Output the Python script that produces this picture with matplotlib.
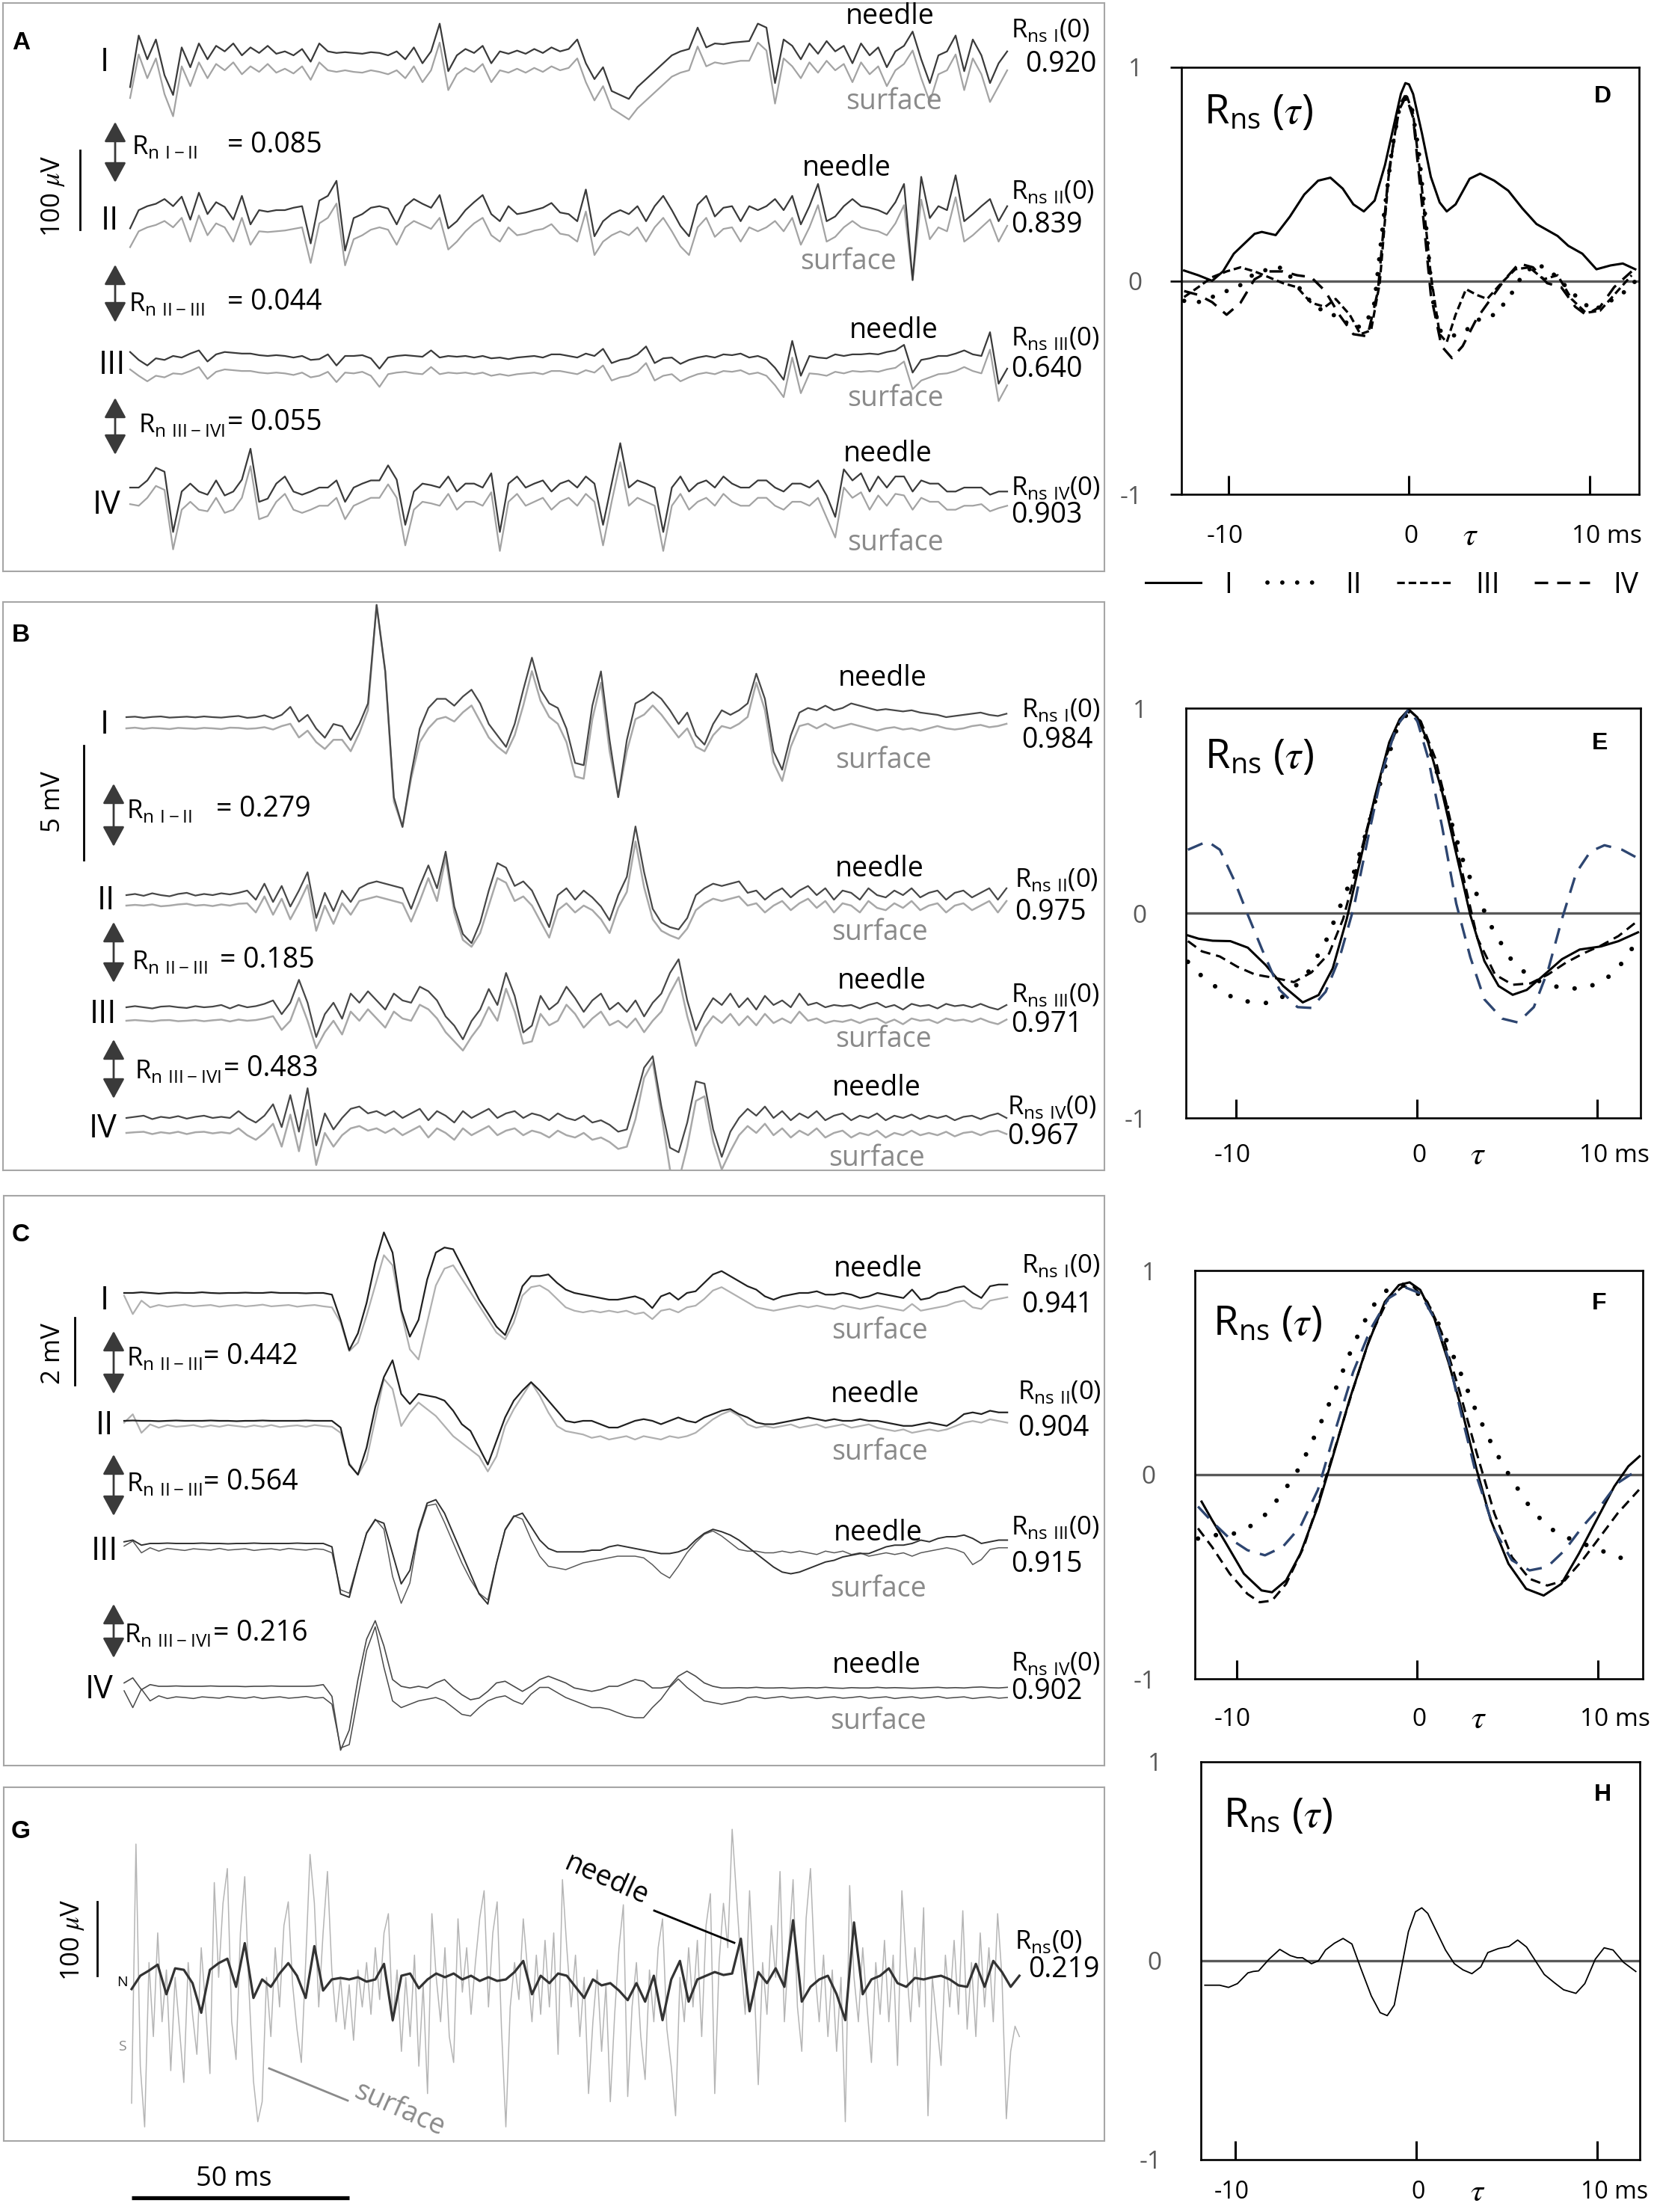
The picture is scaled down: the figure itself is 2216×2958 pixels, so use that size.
import numpy as np
import matplotlib
matplotlib.use("Agg")
import matplotlib.pyplot as plt
from matplotlib.lines import Line2D
from matplotlib.patches import FancyArrowPatch, ArrowStyle
from matplotlib.transforms import blended_transform_factory

plt.rcParams['font.family'] = ['Open Sans', 'DejaVu Sans']
plt.rcParams['lines.solid_joinstyle'] = 'round'

# ------------------------------------------------------------------ data
STEP_MS = 2.0          # sampling step of traced EMG segments (ms)
G_SURF_STEP_MS = 1.0

# Panel A (uV)
A_I_needle = [-40,25,-5,20,-25,-50,10,-15,15,-5, 12,5,15,0,10,3,12,2,5,0, 8,-8,15,5,3,4,3,2,4,3,
              0,5,-5,10,-10,5,40,-20,0,8, 3,12,-10,5,2,6,2,8,3,10, 5,8,20,-10,-30,-15,-45,-50,-55,-40,
              -30,-20,-10,0,5,8,35,10,15,14, 16,17,18,40,35,-35,20,12,-5,15, 2,18,5,12,-10,15,0,10,-15,5,
              12,30,-5,-35,0,5,25,-20,20,0, -35,-10,5]
A_I_surface = [-35,20,-10,15,-30,-58,5,-20,10,-10, 8,0,10,-5,5,-2,8,-3,2,-4, 5,-12,10,0,-2,0,-2,-3,0,-2,
               -5,0,-10,5,-15,0,35,-25,-5,3, -2,8,-15,0,-3,2,-3,3,-2,5, 0,3,15,-15,-38,-20,-48,-55,-62,-48,
               -38,-28,-18,-8,-3,0,30,5,10,8, 10,12,12,35,25,-42,15,5,-10,10, -3,12,0,8,-15,10,-5,5,-20,0,
               8,25,-10,-40,-5,0,20,-25,15,-5, -40,-20,0]
A_II_needle = [-23,0,5,8,14,5,17,-12,22,-5, 10,4,-12,18,-18,0,-2,0,0,3, 5,-42,12,18,37,-51,-10,-5,3,5,
               2,-18,5,14,8,3,19,-23,-14,0, 10,19,-5,-14,5,-5,-3,0,3,9, -3,-5,-14,26,-33,-14,-5,0,-5,5,
               -14,5,18,0,-20,-33,7,18,-8,3, 5,-14,5,0,5,14,0,18,-18,5, 33,-14,-8,5,14,5,3,0,-5,10,
               33,-88,42,-10,5,0,44,-14,-5,5, 14,-14,5]
A_II_surface = [-25,-5,0,3,8,0,12,-18,15,-10, 5,0,-18,12,-22,-5,-6,-5,-4,-2, 0,-45,5,12,30,-48,-15,-10,-3,0,
                -3,-22,0,8,3,-2,12,-28,-18,-5, 5,12,-10,-18,0,-10,-8,-4,-2,4, -8,-10,-18,20,-35,-18,-10,-5,-10,0,
                -18,0,12,-5,-24,-35,0,12,-12,-2, 0,-18,0,-5,0,8,-5,12,-22,0, 28,-18,-12,0,8,0,-3,-5,-10,5,
                28,-67,35,-15,0,-5,38,-18,-10,0, 10,-18,2]
A_III_needle = [5,-5,-12,-3,-5,0,-2,3,7,-7, 2,5,4,3,3,1,0,1,0,-2, 0,-5,-4,2,-12,0,0,1,-3,-16,
                -2,0,1,0,-1,7,-2,0,-1,0, -2,0,-3,-2,-4,-2,-1,0,-2,2, 2,0,-2,3,0,9,-9,-5,-3,2,
                12,-9,-3,-2,-10,-5,-2,0,-2,2, 1,3,-2,0,-4,-15,-30,19,-25,0, -2,-3,2,0,2,2,3,2,5,7,
                14,-21,-5,-3,0,0,3,7,2,0, 30,-35,-16]
A_III_surface = [0,-8,-15,-8,-10,-5,-6,-2,3,-12, -3,0,-1,-2,-2,-4,-5,-4,-5,-7, -4,-10,-8,-3,-16,-4,-5,-3,-8,-22,
                 -6,-4,-3,-5,-6,3,-6,-4,-5,-4, -6,-4,-8,-6,-8,-6,-5,-4,-6,-2, -2,-4,-6,-1,-4,5,-14,-10,-8,-3,
                 8,-14,-8,-6,-15,-10,-6,-4,-6,-2, -3,-1,-6,-4,-8,-20,-35,15,-30,-5, -6,-8,-3,-5,-2,-3,-2,-3,0,2,
                 10,-25,-14,-10,-6,-5,-2,3,-2,-5, 25,-40,-20]
A_IV_needle = [0,0,9,25,20,-56,-5,5,-5,-9, 9,-10,-5,10,49,-18,-14,5,14,-5, -9,-5,0,0,9,-18,0,5,9,9,
               28,10,-47,-5,5,3,0,14,-5,5, 5,0,18,-56,5,14,0,5,9,-5, 5,9,0,14,5,-47,5,56,0,9,
               5,0,-56,0,14,-5,5,9,0,14, 5,0,0,9,9,0,-5,5,5,0, 9,-10,-37,23,9,18,-5,14,0,14,
               14,-5,9,5,5,-5,-5,0,0,0, -9,-5,-5]
A_IV_surface = [-3,-5,5,20,15,-60,-10,0,-10,-12, 5,-14,-10,5,45,-22,-18,0,10,-10, -14,-10,-5,-5,5,-22,-5,0,5,5,
                22,5,-55,-10,0,-2,-5,10,-10,0, 0,-5,12,-62,0,10,-5,0,5,-10, 0,5,-5,10,0,-55,0,50,-5,5,
                0,-5,-62,-5,10,-10,0,5,-5,10, 0,-5,-5,5,5,-5,-10,0,0,-5, 5,-20,-45,18,5,12,-10,8,-5,10,
                8,-10,5,0,0,-10,-10,-5,-5,-3, -12,-8,-5]

# Panel B (mV)
B_I_needle = [0.0,0.02,-0.03,0.01,0.03,-0.02,0.0,0.02,-0.01,0.03,0.0,-0.02,0.02,0.05,-0.03,0.0,0.08,-0.05,0.1,
              0.45,-0.2,0.1,-0.5,-0.9,-0.3,-0.4,-1.0,-0.3,0.6, 4.9,2.0,-3.5,-4.8,-2.5,-0.5,0.4,0.8,0.8,0.5,
              0.9,1.2,0.6,-0.3,-0.8,-1.3,-0.3,1.2,2.6,1.2, 0.6,0.4,-0.5,-2.0,-2.1,0.5,2.0,-1.0,-3.5,-1.0,
              0.6,0.8,1.1,0.8,0.3,-0.3,0.2,-0.8,-1.2,-0.3, 0.3,0.1,0.3,0.6,1.9,0.8,-1.5,-2.3,-0.8,0.2,
              0.4,0.3,0.5,0.3,0.4,0.6,0.5,0.4,0.3,0.35, 0.3,0.25,0.3,0.2,0.15,0.1,0.0,0.05,0.1,0.15, 0.2,0.1,0.05,0.15]
B_I_surface = [0.0,0.03,-0.02,0.02,0.0,-0.03,0.02,0.0,-0.02,0.02,0.0,-0.03,0.03,0.02,-0.02,0.0,0.05,-0.05,0.1,
               0.2,-0.4,-0.1,-0.6,-0.9,-0.5,-0.5,-1.0,-0.2,0.8, 5.4,2.5,-3.2,-4.3,-2.2,-0.6,0.0,0.4,0.5,0.3,
               0.7,1.0,0.3,-0.4,-0.8,-1.1,-0.3,1.0,2.5,1.2, 0.5,0.2,-0.6,-2.1,-2.2,0.4,2.0,-1.0,-3.0,-1.0,
               0.4,0.6,1.0,0.6,0.1,-0.4,0.0,-0.8,-1.0,-0.3, 0.1,0.0,0.2,0.5,2.0,0.8,-1.5,-2.3,-0.8,0.1,
               0.2,0.0,0.2,0.0,0.1,0.2,0.1,0.0,-0.1,0.0, 0.05,-0.05,0.0,-0.1,0.0,0.1,0.0,-0.05,0.0,0.1, 0.15,0.05,0.1,0.2]
B_II_needle = [0,0.05,-0.03,0.08,0.0,-0.05,0.05,0.1,-0.02,0.05,0.0,0.08,0.03,0.1,
               0.2,-0.2,0.5,-0.3,0.4,-0.5,0.2,1.0,-1.0,0.1, -0.7,0.2,-0.3,0.3,0.5,0.6,0.5,0.4,0.3,-0.6,
               0.4,1.3,0.3,1.9,-0.5,-1.7,-2.1,-1.2,0.2,1.4, 1.2,0.4,0.6,0.2,-0.6,-1.4,0.0,0.3,-0.2,0.2,
               -0.1,-0.5,-1.1,0.0,0.8,3.0,1.0,-0.6,-1.2,-1.4, -1.5,-1.0,0.0,0.3,0.5,0.4,0.5,0.6,0.1,0.2,
               -0.2,0.1,0.3,-0.1,0.2,0.4,0.0,0.3,-0.2,0.2, 0.1,-0.2,0.3,0.0,-0.1,0.2,0.0,0.3,-0.1,0.1,
               0.2,-0.2,0.1,0.2,-0.1,0.1,0.3,-0.2,0.3]
B_II_surface = [0,0.03,0.0,0.05,-0.03,0.0,0.05,0.08,0.0,0.03,-0.02,0.05,0.0,0.08,
                0.1,-0.3,0.4,-0.4,0.3,-0.6,0.1,0.9,-1.1,0.0, -0.8,0.1,-0.4,0.2,0.3,0.4,0.3,0.2,0.1,-0.7,
                0.2,1.2,0.2,2.1,-0.3,-1.5,-1.8,-1.2,0.0,1.2, 1.0,0.2,0.4,0.0,-0.7,-1.4,-0.2,0.1,-0.3,0.0,
                -0.2,-0.6,-1.2,-0.1,0.6,2.8,0.8,-0.6,-1.1,-1.3, -1.45,-1.0,-0.2,0.1,0.3,0.2,0.3,0.4,0.0,0.1,
                -0.3,0.0,0.2,-0.2,0.1,0.3,-0.1,0.2,-0.3,0.1, 0.0,-0.3,0.2,-0.1,-0.2,0.1,-0.1,0.2,-0.2,0.0,
                0.1,-0.3,0.0,0.1,-0.2,0.0,0.2,-0.3,0.2]
B_III_needle = [0,0.05,0,-0.05,0.03,0.05,0.0,-0.03,0.05,0.0,0.03,0.1,-0.05,0.1,0.0,0.05,0.15,
                0.3,-0.3,0.2,1.2,0.2,-1.3,-0.3,0.2,-0.5,0.6, 0.2,0.7,0.3,-0.1,0.6,0.3,0.2,0.9,0.7,0.3,
                -0.4,-0.8,-1.4,-0.6,-0.1,0.8,0.1,1.5,0.5,-1.1, -0.8,0.5,-0.1,0.2,0.9,0.4,-0.2,0.3,0.6,-0.1,
                0.2,-0.2,0.3,-0.4,0.2,0.6,1.5,2.1,0.3,-1.0, -0.2,0.4,0.1,0.6,0.0,0.4,-0.1,0.5,0.1,0.3,
                0.0,0.6,0.1,0.2,0.0,0.1,0.05,0.1,-0.05,0.1, 0.2,0.0,0.1,-0.1,0.15,0.05,0.1,-0.05,0.15,0.05,
                0.1,0.0,0.15,0.0,-0.1,0.1]
B_III_surface = [0,0.03,0.0,-0.03,0.02,0.03,-0.02,0.0,0.03,-0.02,0.02,0.05,-0.03,0.05,0.0,0.03,0.1,
                 0.2,-0.4,0.0,1.0,0.0,-1.2,-0.5,0.0,-0.6,0.4, 0.0,0.5,0.1,-0.3,0.4,0.1,0.0,0.7,0.5,0.1,
                 -0.5,-0.9,-1.3,-0.7,-0.2,0.6,0.0,1.4,0.4,-1.0, -0.9,0.3,-0.2,0.0,0.7,0.3,-0.3,0.1,0.4,-0.2,
                 0.0,-0.3,0.1,-0.5,0.0,0.4,1.2,1.9,0.2,-1.1, -0.3,0.2,-0.1,0.3,-0.2,0.2,-0.2,0.3,-0.1,0.1,
                 -0.1,0.4,0.0,0.1,-0.1,0.0,-0.05,0.05,-0.1,0.05, 0.1,-0.1,0.05,-0.15,0.1,0.0,0.05,-0.1,0.1,0.0,
                 0.05,-0.05,0.1,-0.05,-0.15,0.05]
B_IV_needle = [0,0.05,0.1,-0.05,0.05,0.0,0.08,-0.03,0.05,0.1,0.0,0.05,0.0,
               0.3,0.0,-0.2,0.1,0.6,-0.4,1.0,-0.6,1.3,-1.2, 0.2,-0.5,0.0,0.4,0.5,0.2,0.3,0.1,0.3,0.0,
               0.2,0.4,-0.1,0.3,0.1,-0.2,0.3,0.0,0.2,0.4, 0.0,0.2,0.3,0.0,0.2,0.1,-0.1,0.2,0.0,-0.1,
               0.1,-0.2,-0.1,-0.3,-0.6,-0.5,0.8,2.2,2.7,0.5, -1.3,-1.5,-0.2,1.6,1.5,-0.5,-1.7,-0.6,0.0,0.4,
               0.1,0.5,0.0,0.3,-0.1,0.2,0.0,0.3,-0.1,0.1, 0.2,-0.1,0.1,0.0,0.2,-0.1,0.1,0.0,0.15,-0.05,
               0.1,0.0,0.1,-0.1,0.05,0.1,-0.05,0.1,0.2,0.0]
B_IV_surface = [0,0.03,0.05,-0.05,0.03,-0.02,0.05,-0.05,0.03,0.05,-0.02,0.03,-0.02,
                0.2,-0.1,-0.3,0.0,0.4,-0.6,0.8,-0.8,1.0,-1.4, 0.0,-0.6,-0.1,0.2,0.3,0.1,0.2,0.0,0.2,-0.1,
                0.1,0.3,-0.2,0.2,0.0,-0.3,0.2,-0.1,0.1,0.3, -0.1,0.1,0.2,-0.1,0.1,0.0,-0.2,0.1,-0.1,-0.2,
                0.0,-0.3,-0.2,-0.4,-0.7,-0.6,0.6,2.4,3.1,0.8, -1.6,-2.1,-0.6,1.4,1.6,-0.4,-1.6,-0.8,-0.1,0.3,
                0.0,0.4,-0.1,0.2,-0.2,0.1,-0.1,0.2,-0.2,0.0, 0.1,-0.2,0.0,-0.1,0.1,-0.2,0.0,-0.1,0.1,-0.1,
                0.0,-0.1,0.05,-0.15,0.0,0.05,-0.1,0.05,0.1,-0.05]

# Panel C (mV)
C_I_needle = [0,0,0.02,0,-0.02,0,0.01,0,0,0.02,0,-0.01,0,0,0.01,0,0,0.02,0,0,0,-0.01,0,0,-0.05,
              -0.8,-1.7,-1.2,-0.3,0.9,1.8,1.2,-0.5,-1.3,-0.8, 0.4,1.2,1.35,1.3,0.8,0.3,-0.2,-0.6,-1.0,-1.25,
              -0.6,0.2,0.5,0.5,0.55,0.3,0.1,0.0,-0.05,-0.1, -0.15,-0.2,-0.2,-0.15,-0.1,-0.2,-0.45,-0.1,0.0,-0.2,
              0.0,0.05,0.3,0.55,0.65,0.5,0.35,0.2,0.1,-0.1, -0.2,-0.1,-0.05,0.0,0.0,0.05,-0.05,-0.05,0.0,-0.05,
              -0.15,-0.1,0.0,-0.05,-0.1,-0.15,0.1,-0.2,-0.15,0.0, 0.05,0.15,0.2,0.0,-0.15,0.2,0.25,0.25]
C_I_surface = [0.3,-0.25,0.15,-0.05,0.02,-0.03,0.0,0.03,-0.02,0.0,0.02,-0.03,0.0,0.02,-0.02,0.0,0.03,-0.02,0.0,0.02,-0.03,0.0,0.02,-0.02,-0.05,
               -0.5,-1.35,-1.1,-0.3,0.6,1.5,1.2,-0.2,-1.3,-1.6, -0.5,0.6,1.1,1.2,0.8,0.4,0.0,-0.4,-0.8,-1.0,
               -0.5,0.3,0.55,0.6,0.45,0.2,-0.05,-0.15,-0.2,-0.15, -0.2,-0.15,-0.2,-0.15,-0.25,-0.2,-0.4,-0.15,-0.1,-0.2,
               -0.05,0.0,0.2,0.45,0.55,0.4,0.25,0.1,-0.05,-0.1, -0.15,-0.1,-0.05,0.0,-0.05,0.0,-0.05,-0.1,0.0,-0.05,
               -0.1,-0.05,0.0,-0.05,-0.1,-0.15,0.05,-0.15,-0.1,-0.05, 0.0,0.1,0.15,-0.05,-0.1,0.15,0.2,0.25]
C_II_needle = [0,0.01,0,0,-0.01,0,0.01,0,0,0,0.01,0,0,-0.01,0,0,0.01,0,0,0,0,0.01,0,0,0,
               -0.2,-1.3,-1.6,-0.8,0.4,1.3,1.8,0.8,0.5,0.8, 0.75,0.7,0.6,0.3,-0.1,-0.3,-0.8,-1.3,-0.6,0.1,
               0.6,0.9,1.15,0.9,0.6,0.3,0.0,-0.05,0.0,0.0, -0.1,-0.2,-0.2,-0.1,0.0,0.05,0.0,-0.1,0.0,0.1,
               0.0,-0.05,0.1,0.2,0.3,0.35,0.2,0.1,-0.05,-0.1, -0.1,-0.05,0.0,0.05,0.1,0.05,0.0,0.05,0.0,0.0,
               0.05,0.0,0.0,-0.05,-0.1,-0.15,-0.15,-0.1,-0.05,-0.1, -0.15,0.0,0.2,0.25,0.2,0.3,0.25,0.25]
C_II_surface = [0.1,0.35,-0.2,0.05,-0.05,0.03,-0.02,0.0,0.03,-0.03,0.02,-0.02,0.03,0.0,-0.03,0.02,-0.02,0.03,-0.03,0.0,0.02,-0.02,0.03,0.0,-0.02,
                -0.2,-1.1,-1.45,-1.0,0.2,1.4,1.1,0.0,0.4,0.7, 0.5,0.3,0.0,-0.3,-0.5,-0.7,-0.9,-1.35,-0.9,0.0,
                0.5,0.9,1.3,0.9,0.4,0.0,-0.15,-0.2,-0.25,-0.35, -0.3,-0.4,-0.35,-0.3,-0.4,-0.3,-0.35,-0.4,-0.3,-0.35,
                -0.3,-0.2,0.0,0.2,0.35,0.45,0.3,0.05,-0.05,0.0, -0.05,0.0,0.05,-0.05,0.0,0.05,-0.05,0.0,0.05,-0.05,
                0.0,0.05,-0.05,-0.1,-0.15,-0.1,-0.2,-0.15,-0.1,-0.15, -0.1,0.0,0.1,0.15,0.1,0.2,0.15,0.1]
C_III_needle = [0.05,0.1,-0.05,0,0,0.01,0,0,0,0.01,0,0,-0.01,0,0,0.01,0,0,0,0,0.01,0,0,0,-0.1,
                -1.5,-1.6,-0.6,0.3,0.7,0.6,-0.3,-1.2,-0.8,0.4, 1.2,1.3,0.9,0.3,-0.3,-0.9,-1.5,-1.8,-0.6,0.4,
                0.8,0.9,0.5,0.1,-0.15,-0.25,-0.25,-0.25,-0.25,-0.2, -0.2,-0.1,-0.05,-0.1,-0.15,-0.2,-0.25,-0.3,-0.3,-0.25,
                -0.15,0.1,0.3,0.42,0.35,0.25,0.1,-0.1,-0.3,-0.5, -0.7,-0.85,-0.9,-0.85,-0.75,-0.65,-0.55,-0.5,-0.4,-0.35,
                -0.3,-0.3,-0.2,-0.1,-0.05,-0.05,0.0,0.1,0.05,0.15, 0.2,0.2,0.25,0.15,0.0,0.05,0.1,0.1]
C_III_surface = [0.1,0.25,-0.1,0.05,-0.05,0.03,0.0,-0.03,0.02,0.0,-0.02,0.03,-0.02,0.0,0.02,-0.03,0.0,0.02,-0.02,0.03,0.0,-0.02,0.02,0.0,-0.1,
                 -1.2,-1.3,-0.4,0.5,0.9,0.6,-0.8,-1.6,-1.0,0.5, 1.3,1.35,0.8,0.2,-0.4,-0.9,-1.3,-1.5,-0.4,0.6,
                 1.0,0.9,0.3,-0.2,-0.5,-0.55,-0.6,-0.5,-0.4,-0.35, -0.3,-0.25,-0.2,-0.2,-0.2,-0.25,-0.45,-0.7,-0.85,-0.5,
                 -0.1,0.2,0.45,0.55,0.4,0.2,0.0,-0.05,-0.05,-0.1, -0.1,-0.05,-0.1,-0.05,-0.1,-0.15,-0.05,-0.1,-0.05,-0.15,
                 -0.1,-0.2,-0.15,-0.1,-0.15,-0.1,-0.2,-0.1,-0.05,0.0, 0.05,0.0,-0.1,-0.45,-0.3,0.0,0.05,0.05]
C_IV_needle = [0.1,0.25,-0.1,0.05,0,0,0.01,0,0,0,0.01,0,0,0,-0.01,0,0,0.01,0,0,0,0,0.01,
               0.05,-0.3,-1.9,-1.3,0.2,1.4,1.95,1.2,0.2,0.0, -0.05,0.0,-0.05,0.1,0.2,-0.05,-0.25,-0.4,-0.35,-0.15,
               0.1,0.15,0.0,-0.15,0.0,0.2,0.3,0.2,0.1,-0.05, -0.1,-0.15,-0.1,0.0,0.0,0.1,0.2,0.15,-0.05,-0.05,
               0.0,0.3,0.45,0.3,0.1,0.0,-0.05,-0.05,-0.04,-0.05, -0.03,-0.05,-0.05,-0.04,-0.06,-0.05,-0.04,-0.05,-0.03,-0.05,
               -0.06,-0.04,-0.05,-0.05,-0.03,-0.05,-0.04,-0.05,-0.06,-0.05, -0.04,-0.03,-0.05,-0.04,-0.05,-0.03,-0.02,-0.04,-0.05,-0.03]
C_IV_surface = [0.2,-0.3,0.25,-0.1,0.05,-0.03,0.02,0.0,-0.03,0.02,0.0,-0.02,0.03,0.0,-0.02,0.02,-0.03,0.0,0.02,-0.02,0.0,0.03,-0.02,
                0.0,-0.2,-1.5,-1.4,0.0,1.4,2.1,0.9,-0.1,-0.3, -0.2,-0.1,-0.05,0.0,-0.1,-0.3,-0.5,-0.55,-0.3,-0.1,
                0.0,0.05,-0.1,-0.2,0.1,0.3,0.3,0.15,0.0,-0.1, -0.2,-0.3,-0.3,-0.35,-0.45,-0.55,-0.6,-0.6,-0.3,-0.05,
                0.3,0.55,0.3,0.1,-0.1,-0.15,-0.2,-0.15,-0.1,0.0, 0.02,-0.03,0.0,0.03,-0.02,0.0,0.02,-0.03,0.0,0.02,
                -0.02,0.0,0.03,-0.02,0.0,0.02,-0.03,0.0,0.02,-0.02, 0.0,0.03,-0.02,0.0,0.02,-0.03,0.0,0.02,-0.02,0.0]

# Panel G (uV)
G_needle = [-13,5,12,20,-20,15,13,-5,-45,13, 22,28,-10,49,-25,0,-10,8,22,5, -25,45,-15,0,2,0,3,-3,0,21,
            -55,5,8,-12,0,8,3,8,0,5, -2,3,-2,0,10,25,-20,5,-5,8, 5,-10,-25,0,-8,-5,-15,-28,-5,-30,
            5,-55,0,25,-30,0,5,10,6,8, 55,-43,10,-5,15,-10,80,-30,-10,0, 5,-20,-55,77,-20,0,5,15,-5,-10,
            2,0,3,5,0,-8,-10,21,-10,25, 10,-10,5]
G_surface = [-150,200,-100,-182,40,-60,80,-40,30,-106, 20,-50,-122,40,-30,-84,60,-20,-110,148,
             20,120,167,-40,-91,80,156,0,-120,-175, -148,20,-60,60,-20,90,122,10,-50,-95,
             40,186,120,-20,80,163,30,-40,20,-50, 10,-65,30,-20,40,-30,60,-10,80,106,
             -40,30,-80,20,-60,50,-100,10,-137,106, 20,-40,60,-60,-95,99,0,60,-30,40,
             100,137,-20,80,122,-50,-182,-20,40,-10, 99,30,-40,50,-30,70,-20,80,-84,152,
             60,-20,50,-60,20,-137,-40,30,-80,10, -148,-30,60,118,-141,-20,40,-60,-118,30,
             -40,60,99,-50,-100,-167,20,-40,60,-20, 70,-60,90,133,-137,40,120,60,220,130,
             40,-30,137,20,-125,40,-30,90,20,163, -40,60,152,-20,-80,100,167,30,-40,50,
             -60,30,-80,20,-175,144,20,-40,60,-20, -95,40,-30,70,-40,50,-99,137,40,-40,
             60,-20,114,-167,20,-40,-99,50,-20,70, -30,110,-50,40,-60,80,-20,60,-40,106,
             20,-171,-80,-46,-60]

# Cross-correlation curves R_ns(tau), tau in ms
TAU_TICKS = [-10, 0, 10]
D_tau_I = [-12.45,-11.67,-10.9,-10.3,-9.7,-8.55,-8.15,-7.38,-6.6,-5.8,-5.03,-4.35,-3.67,-3.08,-2.5,-1.9,-1.33,-0.84,-0.45,-0.2,
           0.0,0.23,0.72,1.21,1.7,2.09,2.58,3.36,3.94,4.72,5.5,6.28,7.06,8.23,8.82,9.6,10.38,11.16,11.84,12.53]
D_R_I = [0.048,0.026,0.0,0.044,0.127,0.22,0.229,0.214,0.30,0.404,0.469,0.483,0.432,0.358,0.325,0.376,0.542,0.727,0.875,0.926,
         0.92,0.875,0.69,0.487,0.367,0.325,0.358,0.478,0.502,0.469,0.422,0.339,0.266,0.21,0.164,0.127,0.054,0.072,0.081,0.054]
D_tau_II = [-12.45,-11.67,-10.9,-10.1,-9.33,-8.55,-7.77,-6.98,-6.2,-5.42,-4.64,-3.86,-3.08,-2.4,-1.91,-1.42,-0.94,-0.55,-0.16,
            0.14,0.53,0.92,1.3,1.7,2.38,3.16,3.94,4.72,5.5,6.28,7.06,7.84,8.62,9.4,10.19,10.97,11.75,12.53]
D_R_II = [-0.094,-0.10,-0.076,-0.048,-0.02,0.035,0.054,0.063,-0.02,-0.10,-0.15,-0.168,-0.223,-0.205,-0.103,0.284,0.616,0.80,0.856,
          0.82,0.616,0.284,-0.085,-0.232,-0.26,-0.232,-0.177,-0.159,-0.085,0.026,0.081,0.044,-0.02,-0.085,-0.14,-0.103,-0.066,-0.002]
D_tau_III = [-12.45,-11.67,-10.9,-10.1,-9.33,-8.55,-7.77,-6.98,-6.2,-5.42,-4.64,-4.06,-3.28,-2.69,-2.1,-1.62,-1.13,-0.55,-0.16,
             0.23,0.72,1.21,1.7,2.09,2.58,3.16,3.75,4.33,5.11,5.89,6.67,7.45,8.23,9.0,9.8,10.58,11.36,12.33]
D_R_III = [-0.076,-0.03,0.017,0.044,0.063,0.044,0.017,-0.011,-0.03,-0.103,-0.122,-0.085,-0.159,-0.25,-0.232,-0.011,0.487,0.82,0.875,
           0.782,0.43,0.026,-0.25,-0.288,-0.159,-0.039,-0.066,-0.085,-0.011,0.054,0.063,0.007,0.026,-0.085,-0.15,-0.14,-0.066,0.026]
D_tau_IV = [-12.45,-11.67,-10.9,-10.1,-9.33,-8.55,-7.77,-6.98,-6.2,-5.42,-4.64,-3.86,-3.08,-2.3,-1.72,-1.13,-0.55,-0.16,
            0.23,0.72,1.21,1.8,2.38,2.97,3.75,4.53,5.31,6.09,6.87,7.65,8.43,9.21,9.8,10.58,11.36,12.33]
D_R_IV = [-0.048,-0.066,-0.10,-0.159,-0.103,0.007,0.044,0.044,0.026,0.017,-0.048,-0.159,-0.25,-0.26,-0.048,0.505,0.80,0.865,
          0.764,0.358,-0.066,-0.306,-0.362,-0.306,-0.177,-0.085,0.007,0.081,0.063,-0.011,-0.03,-0.122,-0.159,-0.122,-0.03,0.044]

E_tau_I = [-12.67,-12.08,-11.3,-10.32,-9.35,-8.37,-7.39,-6.31,-5.43,-4.65,-3.87,-3.09,-2.31,-1.52,-0.94,-0.45,
           0.04,0.63,1.41,2.19,2.97,3.75,4.54,5.32,6.1,7.08,8.05,9.03,10.2,11.18,12.26]
E_R_I = [-0.109,-0.125,-0.135,-0.137,-0.169,-0.253,-0.356,-0.436,-0.40,-0.27,-0.028,0.27,0.57,0.833,0.946,0.993,
         0.955,0.833,0.59,0.29,-0.009,-0.234,-0.356,-0.399,-0.375,-0.30,-0.225,-0.178,-0.163,-0.137,-0.094]
E_tau_II = [-12.67,-11.89,-10.9,-9.93,-8.95,-7.98,-7.0,-6.02,-5.04,-4.26,-3.48,-2.7,-1.92,-1.13,-0.45,
            0.23,1.02,1.8,2.58,3.36,4.14,5.12,6.1,7.08,8.05,9.03,10.0,10.99,11.96]
E_R_II = [-0.238,-0.309,-0.375,-0.425,-0.436,-0.44,-0.384,-0.29,-0.14,0.028,0.197,0.42,0.665,0.89,0.983,
          0.927,0.72,0.478,0.253,0.084,-0.066,-0.215,-0.30,-0.346,-0.365,-0.369,-0.346,-0.29,-0.169]
E_tau_III = [-12.67,-11.89,-10.9,-9.93,-8.95,-7.78,-6.8,-5.83,-4.85,-4.07,-3.28,-2.5,-1.72,-0.94,-0.35,
             0.23,1.02,1.8,2.58,3.36,4.34,5.32,6.3,7.27,8.25,9.23,10.2,11.18,12.26]
E_R_III = [-0.137,-0.187,-0.212,-0.262,-0.30,-0.318,-0.337,-0.29,-0.197,-0.028,0.234,0.496,0.758,0.936,0.987,
           0.936,0.758,0.478,0.178,-0.122,-0.30,-0.35,-0.343,-0.30,-0.243,-0.197,-0.159,-0.112,-0.037]
E_tau_IV = [-12.67,-11.59,-10.9,-10.1,-9.35,-8.56,-7.59,-6.6,-5.83,-5.04,-4.26,-3.48,-2.7,-1.92,-1.13,-0.45,
            0.04,0.63,1.41,2.19,2.97,3.75,4.73,5.61,6.49,7.27,8.05,8.84,9.62,10.4,11.38,12.16]
E_R_IV = [0.309,0.35,0.309,0.159,-0.009,-0.178,-0.375,-0.459,-0.463,-0.384,-0.215,0.028,0.365,0.684,0.908,0.993,
          0.936,0.758,0.421,0.047,-0.215,-0.421,-0.515,-0.534,-0.459,-0.281,-0.028,0.197,0.30,0.331,0.309,0.272]

F_tau_I = [-11.93,-11.35,-10.57,-9.59,-8.61,-8.03,-7.25,-6.46,-5.49,-4.71,-3.73,-2.75,-1.78,-1.0,-0.41,
           0.18,0.96,1.74,2.52,3.3,4.08,5.06,6.04,7.01,7.99,8.96,9.94,10.92,11.7,12.32]
F_R_I = [-0.132,-0.222,-0.337,-0.485,-0.567,-0.576,-0.518,-0.387,-0.156,0.074,0.37,0.633,0.847,0.929,0.942,
         0.905,0.765,0.551,0.304,0.025,-0.222,-0.436,-0.559,-0.592,-0.535,-0.387,-0.222,-0.058,0.041,0.09]
F_tau_II = [-12.13,-11.35,-10.37,-9.39,-8.42,-7.44,-6.46,-5.49,-4.51,-3.54,-2.56,-1.58,-0.61,
            0.37,1.35,2.32,3.3,4.28,5.25,6.23,7.21,8.18,9.16,10.14,11.11,12.09]
F_R_II = [-0.313,-0.296,-0.296,-0.263,-0.197,-0.09,0.041,0.222,0.419,0.633,0.814,0.913,0.933,
          0.864,0.715,0.518,0.304,0.123,-0.025,-0.156,-0.255,-0.304,-0.337,-0.37,-0.403,-0.428]
F_tau_III = [-12.13,-11.35,-10.37,-9.39,-8.71,-8.03,-7.25,-6.27,-5.49,-4.51,-3.54,-2.56,-1.58,-0.8,-0.21,
             0.57,1.35,2.32,3.3,4.28,5.25,6.23,7.21,8.18,9.16,10.14,11.11,12.29]
F_R_III = [-0.263,-0.354,-0.485,-0.584,-0.625,-0.617,-0.535,-0.354,-0.14,0.14,0.419,0.683,0.864,0.921,0.921,
           0.847,0.699,0.419,0.107,-0.189,-0.403,-0.51,-0.543,-0.518,-0.419,-0.304,-0.189,-0.074]
F_tau_IV = [-12.13,-11.35,-10.37,-9.39,-8.42,-7.44,-6.46,-5.49,-4.51,-3.54,-2.56,-1.58,-0.61,
            0.18,0.96,1.74,2.52,3.3,4.28,5.25,6.23,7.21,8.18,9.16,10.14,11.11,12.09]
F_R_IV = [-0.156,-0.23,-0.313,-0.37,-0.395,-0.354,-0.255,-0.074,0.222,0.502,0.715,0.864,0.916,
          0.888,0.765,0.567,0.271,-0.008,-0.271,-0.419,-0.469,-0.452,-0.37,-0.255,-0.156,-0.041,0.016]

H_tau = [-11.68,-10.86,-10.37,-9.88,-9.3,-9.01,-8.71,-8.13,-7.54,-6.96,-6.57,-6.28,-5.79,-5.4,-5.01,-4.52,-4.04,-3.55,
         -3.06,-2.48,-1.99,-1.6,-1.21,-0.82,-0.43,-0.04,0.31,0.64,1.13,1.62,2.11,2.59,3.08,3.57,3.96,4.54,5.13,5.61,
         6.1,6.59,7.08,7.66,8.15,8.83,9.32,9.9,10.39,10.88,11.46,12.14]
H_R = [-0.123,-0.123,-0.134,-0.115,-0.061,-0.054,-0.051,0.008,0.057,0.026,0.015,0.015,-0.015,0.0,0.054,0.088,0.112,0.084,
       -0.038,-0.177,-0.261,-0.276,-0.223,-0.038,0.146,0.246,0.266,0.238,0.146,0.054,-0.015,-0.046,-0.065,-0.031,0.041,0.061,0.072,0.104,
       0.069,0.0,-0.069,-0.112,-0.146,-0.164,-0.115,0.008,0.065,0.054,-0.008,-0.054]

ROW_NAMES = ['I', 'II', 'III', 'IV']
A_RNS0 = ['0.920', '0.839', '0.640', '0.903']
B_RNS0 = ['0.984', '0.975', '0.971', '0.967']
C_RNS0 = ['0.941', '0.904', '0.915', '0.902']
G_RNS0 = '0.219'
A_RN = [('I-II', '0.085'), ('II-III', '0.044'), ('III-IVI', '0.055')]
B_RN = [('I-II', '0.279'), ('II-III', '0.185'), ('III-IVI', '0.483')]
C_RN = [('II-III', '0.442'), ('II-III', '0.564'), ('III-IVI', '0.216')]

# ------------------------------------------------------------------ figure
W, H, DPI = 2216, 2958, 100
fig = plt.figure(figsize=(W / DPI, H / DPI), dpi=DPI)
fig.patch.set_facecolor('white')

LBL = 27      # size of needle / surface / value texts


def fx(x):
    return x / W


def fy(y):
    return 1 - y / H


def txt(x, y, s, size=26, color='black', ha='center', va='center', **kw):
    return fig.text(fx(x), fy(y), s, fontsize=size, color=color, ha=ha, va=va, **kw)


def darrow(x, y0, y1):
    st = ArrowStyle('<|-|>', head_length=0.66, head_width=0.36)
    p = FancyArrowPatch((fx(x), fy(y0)), (fx(x), fy(y1)), transform=fig.transFigure,
                        arrowstyle=st, mutation_scale=25, color='#3a3a3a', lw=2.0,
                        shrinkA=0, shrinkB=0)
    fig.add_artist(p)


def fline(x0, y0, x1, y1, color='black', lw=2.0):
    fig.add_artist(Line2D([fx(x0), fx(x1)], [fy(y0), fy(y1)], transform=fig.transFigure,
                          color=color, lw=lw))


def trace_panel(box, x0, px_ms, px_unit):
    L, T, R, B = box
    ax = fig.add_axes([fx(L), fy(B), (R - L) / W, (B - T) / H])
    ax.set_xlim((L - x0) / px_ms, (R - x0) / px_ms)
    ax.set_ylim(0, (B - T) / px_unit)
    ax.set_xticks([])
    ax.set_yticks([])
    for s in ax.spines.values():
        s.set_color('#a6a6a6')
        s.set_linewidth(1.5)
    ax.patch.set_alpha(0)

    def base(ypx):
        return (B - ypx) / px_unit
    return ax, base


def plot_trace(ax, base, vals, ypx, step, color, lw, z=2):
    v = np.asarray(vals, dtype=float)
    t = np.arange(len(v)) * step
    ax.plot(t, v + base(ypx), color=color, lw=lw, zorder=z, solid_joinstyle='round')


def rns_label(x, y, sub, size=25):
    txt(x, y, r'R$_{\mathregular{ns\ ' + sub + r'}}$(0)', size=size, ha='left')


def rn_label(x, y, sub, xeq, val, size=25):
    txt(x, y, r'R$_{\mathregular{n\ ' + sub + r'}}$', size=size, ha='left')
    txt(xeq, y - 3, '= ' + val, size=LBL, ha='left')


# ---------------- Panel A
A_BOX = (4, 4, 1477, 764)
axA, bA = trace_panel(A_BOX, 174, 5.75, 1.06)
A_rows = [(A_I_needle, A_I_surface, 74, 94), (A_II_needle, A_II_surface, 281, 304),
          (A_III_needle, A_III_surface, 476, 494), (A_IV_needle, A_IV_surface, 652, 671)]
for n, s, yn, ys in A_rows:
    plot_trace(axA, bA, s, ys, STEP_MS, '#a3a3a3', 1.6, 2)
    plot_trace(axA, bA, n, yn, STEP_MS, '#3a3a3a', 1.6, 3)
A_SCALE_UV = 100
axA.plot([-11.65, -11.65], [bA(307), bA(307) + A_SCALE_UV], color='black', lw=2.0, clip_on=False)
txt(71, 262, '100 $\\mu$V', size=25, rotation=90, math_fontfamily='stix')
txt(28, 57, 'A', size=24, weight='bold', family='Liberation Sans')
for name, (x, y) in zip(ROW_NAMES, [(140, 84), (147, 296), (150, 489), (143, 676)]):
    txt(x, y, name, size=31)
for (xn, yn), (xs, ys) in zip([(1190, 22), (1132, 225), (1195, 442), (1187, 607)],
                              [(1195, 136), (1134, 350), (1197, 533), (1197, 726)]):
    txt(xn, yn, 'needle', size=LBL)
    txt(xs, ys, 'surface', size=LBL, color='#8a8a8a')
for name, val, (xr, yr), (xv, yv) in zip(ROW_NAMES, A_RNS0,
                                         [(1352, 40), (1352, 257), (1352, 452), (1352, 652)],
                                         [(1371, 86), (1352, 301), (1352, 494), (1352, 689)]):
    rns_label(xr, yr, name)
    txt(xv, yv, val, size=LBL, ha='left')
for (sub, val), (xa, ya0, ya1), (xt, yt, xe) in zip(A_RN,
                                                    [(154, 163, 244), (154, 354, 431), (154, 532, 608)],
                                                    [(176, 197, 304), (172, 407, 304), (185, 568, 304)]):
    darrow(xa, ya0, ya1)
    rn_label(xt, yt, sub, xe, val)

# ---------------- Panel B
B_BOX = (4, 805, 1477, 1565)
axB, bB = trace_panel(B_BOX, 169, 5.77, 30.6)
B_rows = [(B_I_needle, B_I_surface, 959, 974), (B_II_needle, B_II_surface, 1197, 1211),
          (B_III_needle, B_III_surface, 1347, 1365), (B_IV_needle, B_IV_surface, 1495, 1515)]
for n, s, yn, ys in B_rows:
    plot_trace(axB, bB, s, ys, STEP_MS, '#a8a8a8', 1.8, 2)
    plot_trace(axB, bB, n, yn, STEP_MS, '#474747', 1.6, 3)
B_SCALE_MV = 5
axB.plot([-9.9, -9.9], [bB(1150), bB(1150) + B_SCALE_MV], color='black', lw=2.0, clip_on=False)
txt(71, 1072, '5 mV', size=25, rotation=90)
txt(28, 850, 'B', size=24, weight='bold', family='Liberation Sans')
for name, (x, y) in zip(ROW_NAMES, [(140, 970), (142, 1205), (138, 1357), (138, 1510)]):
    txt(x, y, name, size=31)
for (xn, yn), (xs, ys) in zip([(1180, 907), (1176, 1162), (1179, 1312), (1172, 1455)],
                              [(1181, 1017), (1176, 1247), (1181, 1390), (1172, 1549)]):
    txt(xn, yn, 'needle', size=LBL)
    txt(xs, ys, 'surface', size=LBL, color='#8a8a8a')
for name, val, (xr, yr), (xv, yv) in zip(ROW_NAMES, B_RNS0,
                                         [(1366, 950), (1357, 1177), (1352, 1330), (1347, 1480)],
                                         [(1366, 990), (1357, 1220), (1352, 1370), (1347, 1520)]):
    rns_label(xr, yr, name)
    txt(xv, yv, val, size=LBL, ha='left')
for (sub, val), (xa, ya0, ya1), (xt, yt, xe) in zip(B_RN,
                                                    [(152, 1048, 1132), (152, 1233, 1314), (152, 1390, 1469)],
                                                    [(169, 1085, 289), (176, 1287, 294), (180, 1432, 299)]):
    darrow(xa, ya0, ya1)
    rn_label(xt, yt, sub, xe, val)

# ---------------- Panel C
C_BOX = (5, 1599, 1477, 2361)
axC, bC = trace_panel(C_BOX, 166, 5.79, 45.0)
C_rows = [(C_I_needle, C_I_surface, 1729, 1746, '#202020', '#b0b0b0', 1.6, 1.6),
          (C_II_needle, C_II_surface, 1900, 1907, '#202020', '#b0b0b0', 1.6, 1.6),
          (C_III_needle, C_III_surface, 2064, 2072, '#303030', '#5a5a5a', 1.4, 1.1),
          (C_IV_needle, C_IV_surface, 2255, 2270, '#4a4a4a', '#4a4a4a', 1.2, 1.1)]
for n, s, yn, ys, cn, cs, ln, ls in C_rows:
    plot_trace(axC, bC, s, ys, STEP_MS, cs, ls, 2)
    plot_trace(axC, bC, n, yn, STEP_MS, cn, ln, 3)
C_SCALE_MV = 2
axC.plot([-11.4, -11.4], [bC(1852), bC(1852) + C_SCALE_MV], color='black', lw=2.0, clip_on=False)
txt(71, 1810, '2 mV', size=25, rotation=90)
txt(28, 1652, 'C', size=24, weight='bold', family='Liberation Sans')
for name, (x, y) in zip(ROW_NAMES, [(140, 1740), (140, 1907), (140, 2075), (133, 2260)]):
    txt(x, y, name, size=31)
for (xn, yn), (xs, ys) in zip([(1174, 1697), (1170, 1865), (1174, 2050), (1172, 2227)],
                              [(1176, 1780), (1176, 1942), (1174, 2125), (1174, 2302)]):
    txt(xn, yn, 'needle', size=LBL)
    txt(xs, ys, 'surface', size=LBL, color='#8a8a8a')
for name, val, (xr, yr), (xv, yv) in zip(ROW_NAMES, C_RNS0,
                                         [(1366, 1692), (1361, 1862), (1352, 2042), (1352, 2225)],
                                         [(1366, 1745), (1361, 1910), (1352, 2092), (1352, 2262)]):
    rns_label(xr, yr, name)
    txt(xv, yv, val, size=LBL, ha='left')
for (sub, val), (xa, ya0, ya1), (xt, yt, xe) in zip(C_RN,
                                                    [(152, 1780, 1864), (152, 1945, 2027), (152, 2145, 2217)],
                                                    [(169, 1817, 272), (169, 1985, 272), (166, 2187, 285)]):
    darrow(xa, ya0, ya1)
    rn_label(xt, yt, sub, xe, val)

# ---------------- Panel G
G_BOX = (5, 2390, 1477, 2863)
axG, bG = trace_panel(G_BOX, 176, 5.82, 0.99)
plot_trace(axG, bG, G_surface, 2664, G_SURF_STEP_MS, '#b5b5b5', 1.1, 2)
plot_trace(axG, bG, G_needle, 2647, STEP_MS, '#333333', 2.3, 3)
G_SCALE_UV = 100
G_TIME_BAR_MS = 50
axG.plot([-7.9, -7.9], [bG(2642), bG(2642) + G_SCALE_UV], color='black', lw=2.0, clip_on=False)
axG.plot([0, G_TIME_BAR_MS], [bG(2939), bG(2939)], color='black', lw=3.8, clip_on=False,
         solid_capstyle='butt')
txt(97, 2594, '100 $\\mu$V', size=25, rotation=90, math_fontfamily='stix')
txt(313, 2914, '50 ms', size=26)
txt(28, 2449, 'G', size=24, weight='bold', family='Liberation Sans')
txt(163, 2651, 'N', size=14)
txt(163, 2737, 'S', size=14, color='#8a8a8a')
txt(811, 2514, 'needle', size=LBL, rotation=-24)
fline(875, 2555, 982, 2598, color='black', lw=2.0)
txt(534, 2821, 'surface', size=LBL, rotation=-24, color='#8a8a8a')
fline(360, 2766, 465, 2809, color='#8a8a8a', lw=2.0)
txt(1357, 2596, r'R$_{\mathregular{ns}}$(0)', size=25, ha='left')
txt(1375, 2634, G_RNS0, size=LBL, ha='left')


# ---------------- Correlation panels
def corr_panel(box, xlim, curves, letter, letter_xy, title_xy, lab_off_px, ytick_px=0,
               lab_size=24):
    L, T, R, B = box
    ax = fig.add_axes([fx(L), fy(B), (R - L) / W, (B - T) / H])
    ax.set_xlim(*xlim)
    ax.set_ylim(-1, 1)
    ax.axhline(0, color='#595959', lw=2.4, zorder=1)
    handles = []
    for tau, r, sty in curves:
        n = min(len(tau), len(r))
        h, = ax.plot(tau[:n], r[:n], zorder=3, **sty)
        handles.append(h)
    for s in ax.spines.values():
        s.set_linewidth(1.9)
        s.set_color('black')
    ax.set_xticks(TAU_TICKS)
    ax.set_xticklabels([])
    ax.tick_params(axis='x', direction='in', length=18, width=2.2, top=False)
    ax.set_yticks([-1, 0, 1])
    ax.set_yticklabels(['-1', '0', '1'])
    tl = ytick_px * 0.72
    ax.tick_params(axis='y', direction='out', length=tl, width=1.9, labelsize=24,
                   labelcolor='#595959', pad=52 * 0.72 - tl)
    tr = blended_transform_factory(ax.transData, ax.transAxes)
    for x, s, dx in [(-10, '-10', -5), (0, '0', 3), (10, '10 ms', 23)]:
        ax.annotate(s, xy=(x, 0), xycoords=tr, xytext=(dx * 0.72, -lab_off_px * 0.72),
                    textcoords='offset points', ha='center', va='center', fontsize=lab_size)
    ax.annotate(r'$\tau$', xy=(3.4, 0), xycoords=tr, xytext=(0, -lab_off_px * 0.72),
                textcoords='offset points', ha='center', va='center', fontsize=lab_size + 8,
                math_fontfamily='stix')
    txt(title_xy[0], title_xy[1], r'R$_{\mathregular{ns}}$ ($\tau$)', size=39, ha='left',
        math_fontfamily='stix')
    txt(letter_xy[0], letter_xy[1], letter, size=23, weight='bold', family='Liberation Sans')
    return ax, handles


NAVY = '#2d4570'
solid = dict(color='black', lw=2.2, linestyle='-')

D_styles = [solid,
            dict(color='black', lw=4.2, linestyle=(0, (0.01, 3.4)), dash_capstyle='round'),
            dict(color='black', lw=2.3, linestyle=(0, (3.2, 1.6))),
            dict(color='black', lw=2.4, linestyle=(0, (5.4, 3.6)))]
axD, hD = corr_panel((1580, 90, 2192, 661), (-12.6, 12.74),
                     [(D_tau_I, D_R_I, D_styles[0]), (D_tau_II, D_R_II, D_styles[1]),
                      (D_tau_III, D_R_III, D_styles[2]), (D_tau_IV, D_R_IV, D_styles[3])],
                     'D', (2143, 129), (1610, 150), 57, ytick_px=15)
axD.legend(hD, ROW_NAMES, ncol=4, loc='center left', bbox_to_anchor=(fx(1532), fy(783)),
           bbox_transform=fig.transFigure, frameon=False, fontsize=28, handlelength=1.9,
           handletextpad=0.8, columnspacing=1.2, borderpad=0, borderaxespad=0)

E_styles = [solid,
            dict(color='black', lw=4.4, linestyle=(0, (0.01, 4.0)), dash_capstyle='round'),
            dict(color='black', lw=2.2, linestyle=(0, (4.4, 2.6))),
            dict(color=NAVY, lw=2.4, linestyle=(0, (6.4, 4.2)))]
corr_panel((1586, 947, 2194, 1495), (-12.78, 12.4),
           [(E_tau_I, E_R_I, E_styles[0]), (E_tau_II, E_R_II, E_styles[1]),
            (E_tau_III, E_R_III, E_styles[2]), (E_tau_IV, E_R_IV, E_styles[3])],
           'E', (2140, 994), (1611, 1013), 51)

corr_panel((1598, 1699, 2197, 2245), (-12.3, 12.5),
           [(F_tau_I, F_R_I, E_styles[0]), (F_tau_II, F_R_II, E_styles[1]),
            (F_tau_III, F_R_III, E_styles[2]), (F_tau_IV, F_R_IV, E_styles[3])],
           'F', (2139, 1743), (1622, 1771), 55)

corr_panel((1606, 2356, 2193, 2888), (-11.9, 12.36),
           [(H_tau, H_R, dict(color='black', lw=1.3, linestyle='-'))],
           'H', (2143, 2400), (1636, 2428), 44, lab_size=23)

fig.savefig('out.png', dpi=DPI, facecolor='white')
